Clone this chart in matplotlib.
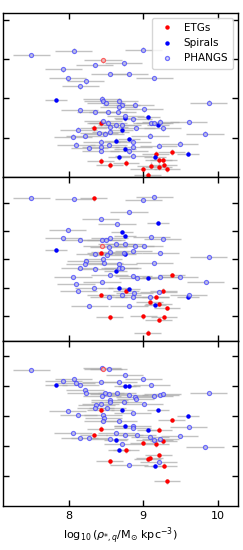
import matplotlib
matplotlib.use("Agg")
import matplotlib.pyplot as plt

# ---- panel 1 ----
p1_phangs_x = [7.50, 8.07, 9.00, 8.35, 8.74, 7.93, 8.55, 8.81, 9.15, 7.99, 8.23, 8.16,
               8.45, 8.46, 8.50, 8.68, 8.71, 8.89, 8.67, 8.15, 8.36, 8.53, 8.66, 9.01,
               8.76, 8.87, 8.46, 8.53, 8.64, 8.72, 9.11, 9.15, 9.23, 9.61, 8.91, 8.13,
               8.55, 8.56, 8.49, 8.41, 8.06, 8.22, 9.09, 9.83, 9.88, 8.44, 8.86, 8.10,
               8.28, 8.43, 8.54, 8.87, 9.21, 9.49, 8.43, 8.87, 9.26, 8.81]
p1_phangs_y = [3.10, 3.21, 3.24, 2.85, 2.89, 2.74, 2.62, 2.62, 2.52, 2.51, 2.43, 2.31,
               1.99, 1.94, 1.88, 1.94, 1.84, 1.84, 1.77, 1.70, 1.65, 1.65, 1.65, 1.72,
               1.55, 1.47, 1.42, 1.38, 1.31, 1.32, 1.37, 1.37, 1.41, 1.40, 1.25, 1.20,
               1.26, 1.15, 1.10, 1.12, 1.03, 1.05, 1.05, 1.10, 1.89, 0.90, 0.89, 0.82,
               0.74, 0.76, 0.82, 0.76, 0.80, 0.85, 0.67, 0.54, 1.24, 0.65]
p1_spiral_x = [7.83, 8.76, 9.07, 9.20, 8.72, 8.63, 8.81, 8.76, 8.68, 9.16, 9.60]
p1_spiral_y = [1.96, 1.49, 1.52, 1.33, 1.19, 0.92, 0.97, 0.72, 0.50, 0.52, 0.59]
p1_etg_x = [8.43, 8.34, 8.43, 8.55, 8.77, 9.00, 9.06, 9.10, 9.21, 9.28, 9.32, 9.21,
            9.27, 9.17, 9.38]
p1_etg_y = [1.38, 1.24, 0.41, 0.30, 0.35, 0.21, 0.05, 0.29, 0.25, 0.31, 0.20, 0.42,
            0.44, 0.59, 0.64]
p1_both_x = [8.46]
p1_both_y = [2.97]

# ---- panel 2 ----
p2_phangs_x = [7.50, 8.07, 9.00, 9.15, 8.81, 8.43, 8.65, 7.99, 8.55, 7.93, 8.16, 8.45,
               8.50, 9.11, 9.26, 8.64, 8.75, 8.54, 8.89, 9.01, 8.55, 8.52, 8.35, 8.74,
               8.87, 9.23, 8.46, 8.48, 8.23, 8.22, 8.15, 8.36, 8.67, 8.68, 8.72, 9.15,
               9.88, 8.55, 8.87, 8.92, 9.23, 9.49, 8.06, 9.84, 8.10, 8.45, 8.34, 8.13,
               8.88, 8.72, 8.87, 8.54, 9.09, 9.21, 9.61, 8.28, 8.81]
p2_phangs_y = [5.18, 5.13, 5.11, 5.21, 4.67, 4.42, 4.24, 4.04, 3.74, 3.76, 3.69, 3.69,
               3.69, 3.79, 3.73, 3.56, 3.56, 3.45, 3.47, 3.47, 3.27, 3.16, 3.19, 3.24,
               3.28, 3.22, 3.02, 2.88, 2.94, 2.82, 2.71, 2.66, 2.82, 2.71, 2.69, 2.86,
               3.08, 2.44, 2.42, 2.35, 2.39, 2.39, 2.36, 2.19, 2.11, 2.18, 1.99, 1.86,
               1.81, 1.74, 1.65, 1.65, 1.66, 1.84, 1.74, 1.35, 1.34]
p2_spiral_x = [7.83, 9.20, 8.72, 8.76, 8.76, 8.63, 9.07, 8.68, 8.81, 9.60, 9.16]
p2_spiral_y = [3.33, 4.29, 3.98, 3.84, 3.19, 2.58, 2.34, 2.00, 1.94, 1.66, 1.39]
p2_etg_x = [8.34, 8.43, 8.77, 9.27, 8.43, 9.17, 9.09, 9.21, 9.32, 9.38, 8.55, 9.00,
            9.28, 9.21, 9.06]
p2_etg_y = [5.16, 3.22, 1.88, 1.89, 1.74, 1.67, 1.49, 1.41, 1.28, 2.44, 0.94, 0.98,
            0.95, 0.84, 0.40]
p2_both_x = [8.45]
p2_both_y = [3.49]

# ---- panel 3 ----
p3_phangs_x = [7.50, 8.45, 8.54, 8.75, 8.07, 9.00, 7.93, 8.10, 8.16, 8.43, 8.67, 9.11,
               8.22, 8.23, 8.49, 8.54, 8.81, 8.65, 8.89, 8.90, 8.45, 9.15, 9.23, 9.26,
               9.88, 8.55, 8.55, 8.74, 9.01, 8.37, 8.43, 8.36, 8.52, 7.99, 8.13, 8.46,
               8.47, 8.46, 8.67, 8.86, 8.86, 8.86, 8.64, 8.75, 8.92, 8.06, 9.09, 9.15,
               9.23, 9.49, 9.61, 8.15, 8.28, 8.55, 8.72, 9.83, 9.21, 8.81]
p3_phangs_y = [4.55, 4.61, 4.59, 4.36, 4.25, 4.23, 4.16, 4.11, 4.03, 4.13, 4.13, 4.04,
               3.88, 3.77, 3.78, 3.75, 3.72, 3.77, 3.65, 3.56, 3.66, 3.67, 3.69, 3.74,
               3.76, 3.55, 3.47, 3.48, 3.40, 3.37, 3.41, 3.27, 3.28, 3.18, 3.04, 3.02,
               2.93, 2.83, 2.85, 3.09, 2.68, 2.59, 2.43, 2.36, 2.37, 2.42, 2.30, 2.21,
               2.23, 2.34, 2.62, 2.25, 2.25, 2.22, 2.07, 1.97, 1.46, 1.36]
p3_spiral_x = [7.83, 8.76, 8.81, 8.72, 9.20, 8.76, 9.07, 9.60, 8.63, 8.68, 9.16]
p3_spiral_y = [4.04, 3.99, 3.99, 3.19, 3.19, 2.66, 2.52, 3.00, 2.20, 1.87, 1.32]
p3_etg_x = [8.43, 9.38, 8.43, 8.34, 9.21, 9.27, 9.00, 9.17, 8.77, 9.09, 9.06, 9.21,
            8.55, 9.28, 9.32]
p3_etg_y = [3.19, 2.87, 2.58, 2.35, 2.54, 2.15, 2.11, 2.05, 1.85, 1.60, 1.58, 1.69,
            1.48, 1.34, 0.82]
p3_both_x = [8.46]
p3_both_y = [4.58]

# typical uncertainties per sample
phangs_xerr, phangs_yerr = 0.25, 0.06
spiral_xerr, spiral_yerr = 0.15, 0.06
etg_xerr, etg_yerr = 0.18, 0.08

panels = [
    (p1_phangs_x, p1_phangs_y, p1_spiral_x, p1_spiral_y, p1_etg_x, p1_etg_y, p1_both_x, p1_both_y),
    (p2_phangs_x, p2_phangs_y, p2_spiral_x, p2_spiral_y, p2_etg_x, p2_etg_y, p2_both_x, p2_both_y),
    (p3_phangs_x, p3_phangs_y, p3_spiral_x, p3_spiral_y, p3_etg_x, p3_etg_y, p3_both_x, p3_both_y),
]
ylims = [(0.0, 4.18), (0.09, 5.92), (0.0, 5.5)]
yticks = [[1, 2, 3, 4], [1, 2, 3, 4, 5], [1, 2, 3, 4, 5]]

ERR_KW = dict(fmt='none', ecolor='#a8a8a8', elinewidth=1.0, alpha=0.7, zorder=1)


def draw_panel(ax, data):
    px, py, sx, sy, ex, ey, bx, by = data
    ax.errorbar(px, py, xerr=phangs_xerr, yerr=phangs_yerr, **ERR_KW)
    ax.errorbar(sx, sy, xerr=spiral_xerr, yerr=spiral_yerr, **ERR_KW)
    ax.errorbar(ex, ey, xerr=etg_xerr, yerr=etg_yerr, **ERR_KW)
    ax.errorbar(bx, by, xerr=phangs_xerr, yerr=phangs_yerr, **ERR_KW)
    ax.plot(ex, ey, 'o', color='red', ms=3.2, mew=0, zorder=3, label='ETGs')
    ax.plot(sx, sy, 'o', color='blue', ms=3.2, mew=0, zorder=3, label='Spirals')
    ax.plot(px, py, 'o', mfc='#c8c8f0', mec='#3a3aff', ms=2.9, mew=0.9,
            alpha=0.7, zorder=4, label='PHANGS')
    ax.plot(bx, by, 'o', mfc='#f0c8c8', mec='#ff4040', ms=2.9, mew=0.9,
            alpha=0.8, zorder=4)


fig, axes = plt.subplots(3, 1, sharex=True, figsize=(2.43, 5.5), dpi=100)
fig.subplots_adjust(left=0.012, right=0.979, top=0.977, bottom=0.0805, hspace=0)

for ax, data, yl, yt in zip(axes, panels, ylims, yticks):
    draw_panel(ax, data)
    ax.set_ylim(*yl)
    ax.set_yticks(yt)
    ax.set_xlim(7.12, 10.27)
    ax.set_xticks([8, 9, 10])
    ax.tick_params(direction='in', top=True, right=True, length=4, width=1,
                   labelleft=False, labelsize=8)
    for sp in ax.spines.values():
        sp.set_linewidth(1.0)

axes[0].legend(loc='upper right', fontsize=7.5, handletextpad=0.6,
               borderpad=0.5, labelspacing=0.5, framealpha=0.8)
axes[2].set_xlabel(r'$\log_{10}(\rho_{*,q}/\mathrm{M}_{\odot}\ \mathrm{kpc}^{-3})$',
                   fontsize=8, labelpad=3)

fig.savefig('out.png', dpi=100)
